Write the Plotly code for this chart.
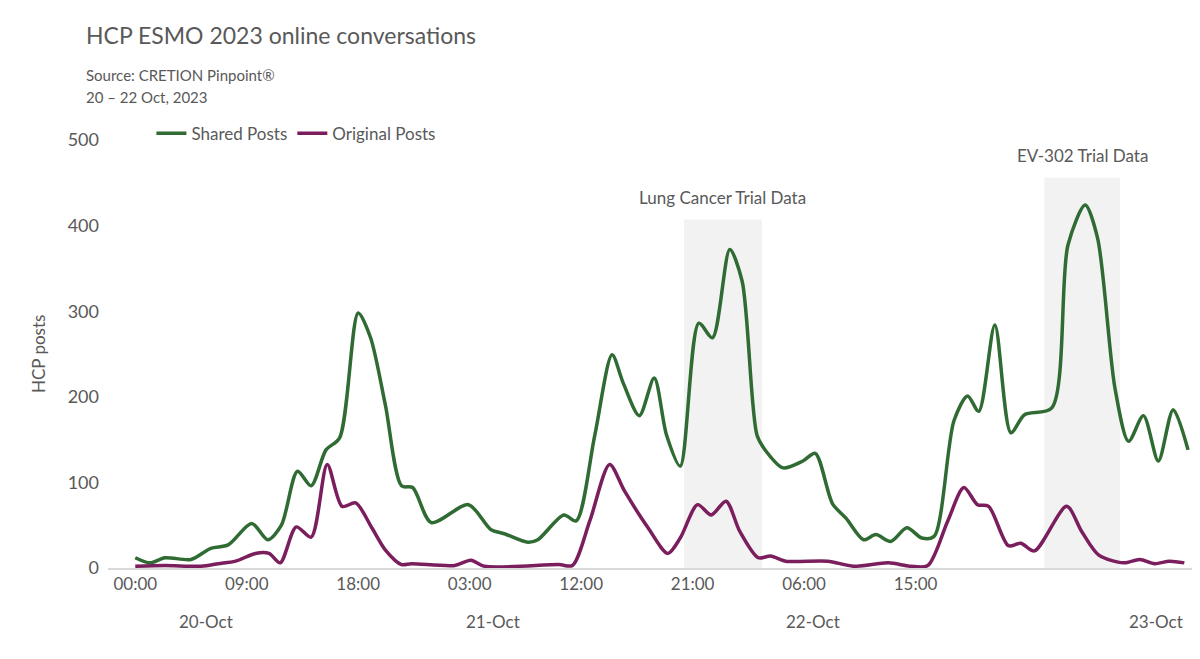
import plotly.graph_objects as go

shared_x = [0,1.2,2.4,4.5,6.1,7.5,9.4,10.7,11.8,13.1,14.2,15.4,16.5,18,19,20.2,21.5,22.4,23.9,26.9,28.7,29.8,31.7,32.5,34.6,35.6,37.1,38.5,39.4,40.7,41.9,42.9,44,45.5,46.6,48,49,50.2,50.9,52.3,53.9,54.9,56.3,57.4,58.8,59.8,61,62.3,63.5,64.5,66.1,67.2,68.1,69.4,70.7,71.8,74,75.3,76.7,77.7,79.1,80.2,81.4,82.6,83.8,85]
shared_y = [12,6,12,10,23,27,52,33,50,113,96,138,152,298,269,190,96,94,53,74,45,40,30,33,62,55,155,249,216,178,222,155,119,286,269,372,335,155,137,117,125,134,75,58,33,39,31,47,35,37,172,201,183,284,158,179,187,377,424,385,210,148,178,125,185,138]

orig_x = [0,2.4,5.3,6.7,8.1,9.7,10.8,11.7,13,14.2,15.5,16.7,17.8,19.1,20.2,21.5,22.3,25.8,27.1,28.2,34.2,35.3,36.7,38.3,39.5,41.4,43,44,45.4,46.5,47.7,48.8,50.3,51.3,52.5,55.9,58,60.8,62.6,64,65.6,66.9,68,68.9,70.5,71.5,72.6,75.2,76.4,77.8,79.8,81.1,82.3,83.5,84.7]
orig_y = [2,3,2,5,8,17,17,6,48,36,121,72,76,47,21,4,5,3,9,2,4,3,55,121,90,47,17,35,74,62,78,43,12,14,8,8,2,6,2,3,55,94,74,72,26,29,20,72,43,15,6,10,5,8,6]

tick_vals = [0,9,18,27,36,45,54,63]
tick_text = ["00:00","09:00","18:00","03:00","12:00","21:00","06:00","15:00"]
date_pos = [5.7,28.9,54.7,82.4]
date_text = ["20-Oct","21-Oct","22-Oct","23-Oct"]
bands = [(44.3,50.6,407,"Lung Cancer Trial Data"),(73.4,79.5,456,"EV-302 Trial Data")]

GREEN = "#2F6B33"; PURPLE = "#7A1E5E"; GRAY = "#595959"
fig = go.Figure()
fig.add_trace(go.Scatter(x=shared_x, y=shared_y, mode="lines", name="Shared Posts",
    line=dict(color=GREEN, width=3.5, shape="spline", smoothing=0.8)))
fig.add_trace(go.Scatter(x=orig_x, y=orig_y, mode="lines", name="Original Posts",
    line=dict(color=PURPLE, width=3.5, shape="spline", smoothing=0.8)))

for x0, x1, top, label in bands:
    fig.add_shape(type="rect", x0=x0, x1=x1, y0=0, y1=top, fillcolor="#F2F2F2",
                  line=dict(width=0), layer="below")
    fig.add_annotation(x=(x0+x1)/2, y=top, yshift=10, text=label, showarrow=False,
                       yanchor="bottom", font=dict(size=17, color=GRAY))
for p, t in zip(date_pos, date_text):
    fig.add_annotation(x=p, y=0, xref="x", yref="y", yshift=-53, text=t, showarrow=False,
                       yanchor="middle", font=dict(size=17, color=GRAY))

fig.add_annotation(xref="paper", yref="paper", x=-0.022, y=1.0, xanchor="left", yanchor="middle",
    yshift=105, text="HCP ESMO 2023 online conversations", showarrow=False,
    font=dict(size=23, color=GRAY))
fig.add_annotation(xref="paper", yref="paper", x=-0.022, y=1.0, xanchor="left", yanchor="middle",
    yshift=65, text="Source: CRETION Pinpoint®", showarrow=False,
    font=dict(size=15, color=GRAY))
fig.add_annotation(xref="paper", yref="paper", x=-0.022, y=1.0, xanchor="left", yanchor="middle",
    yshift=43, text="20 – 22 Oct, 2023", showarrow=False,
    font=dict(size=15, color=GRAY))
fig.add_annotation(xref="paper", yref="paper", x=0, y=0.5, xanchor="center", yanchor="middle",
    xshift=-70, textangle=-90, text="HCP posts", showarrow=False,
    font=dict(size=17, color=GRAY))

fig.update_layout(
    width=1200, height=659, paper_bgcolor="white", plot_bgcolor="white",
    margin=dict(l=100, r=15, t=132, b=99, autoexpand=False),
    font=dict(family="Lato, Open Sans, sans-serif", color=GRAY, size=16),
    legend=dict(orientation="h", x=0.04, y=1.015, yanchor="middle", xanchor="left",
                font=dict(size=17, color=GRAY)),
    showlegend=True,
)
fig.update_xaxes(range=[-2.2, 85.4], tickvals=tick_vals, ticktext=tick_text, showgrid=False,
                 showline=True, linecolor="#D9D9D9", linewidth=1.5, ticks="", zeroline=False,
                 automargin=False, tickfont=dict(size=17, color=GRAY))
fig.update_yaxes(range=[0, 500], dtick=100, showgrid=False, zeroline=False, showline=False,
                 automargin=False, ticklabelstandoff=8, tickfont=dict(size=18, color=GRAY))
fig.write_html("out.html")
